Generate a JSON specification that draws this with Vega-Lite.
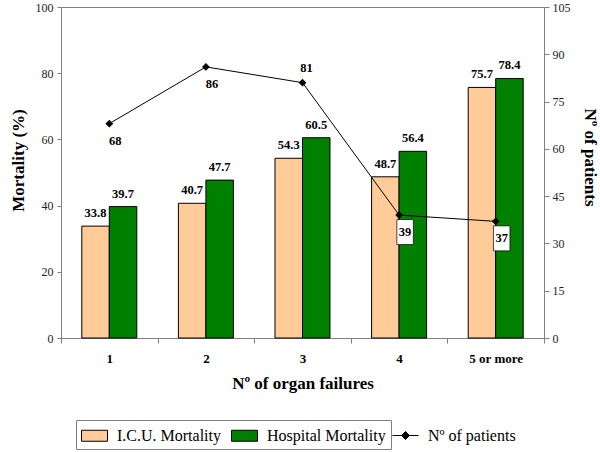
{
  "$schema": "https://vega.github.io/schema/vega-lite/v6.json",
  "width": 483,
  "height": 331,
  "autosize": {"type": "none"},
  "padding": {"left": 61, "top": 7, "right": 56, "bottom": 114},
  "background": "white",
  "config": {
    "font": "Liberation Serif",
    "view": {"stroke": "#808080", "strokeWidth": 1},
    "axis": {
      "grid": false,
      "domainColor": "#808080",
      "tickColor": "#808080",
      "labelFont": "Liberation Serif",
      "titleFont": "Liberation Serif",
      "labelColor": "#222222",
      "titleColor": "black",
      "titleFontWeight": "bold",
      "titleFontSize": 17,
      "labelFontSize": 12
    },
    "legend": {
      "orient": "none", "legendY": 413,
      "direction": "horizontal",
      "padding": 5,
      "symbolSize": 400, "symbolOffset": 3, "labelOffset": 12, "columnPadding": 8, "labelLimit": 400,
      "labelFont": "Liberation Serif", "labelFontSize": 16, "labelColor": "black"
    },
    "text": {"font": "Liberation Serif", "color": "black"}
  },
  "datasets": {
    "bars": [
      {"failures": "1", "series": "I.C.U. Mortality", "value": 33.8},
      {"failures": "1", "series": "Hospital Mortality", "value": 39.7},
      {"failures": "2", "series": "I.C.U. Mortality", "value": 40.7},
      {"failures": "2", "series": "Hospital Mortality", "value": 47.7},
      {"failures": "3", "series": "I.C.U. Mortality", "value": 54.3},
      {"failures": "3", "series": "Hospital Mortality", "value": 60.5},
      {"failures": "4", "series": "I.C.U. Mortality", "value": 48.7},
      {"failures": "4", "series": "Hospital Mortality", "value": 56.4},
      {"failures": "5 or more", "series": "I.C.U. Mortality", "value": 75.7},
      {"failures": "5 or more", "series": "Hospital Mortality", "value": 78.4}
    ],
    "patients": [
      {"failures": "1", "n": 68},
      {"failures": "2", "n": 86},
      {"failures": "3", "n": 81},
      {"failures": "4", "n": 39},
      {"failures": "5 or more", "n": 37}
    ]
  },
  "layer": [
    {
      "data": {"name": "bars"},
      "encoding": {
        "x": {
          "field": "failures", "type": "nominal",
          "sort": ["1", "2", "3", "4", "5 or more"],
          "scale": {"padding": 0},
          "axis": {"title": "Nº of organ failures", "labelAngle": 0, "labelFontWeight": "bold", "labelFontSize": 13, "labelColor": "black", "tickBand": "extent", "tickSize": 5, "labelPadding": 9, "titlePadding": 10}
        },
        "xOffset": {
          "field": "series", "type": "nominal",
          "sort": ["I.C.U. Mortality", "Hospital Mortality"],
          "scale": {"paddingOuter": 0.756, "paddingInner": 0}
        },
        "y": {
          "field": "value", "type": "quantitative",
          "scale": {"domain": [0, 100]},
          "axis": {"title": "Mortality (%)", "values": [0, 20, 40, 60, 80, 100], "tickSize": 4, "labelPadding": 4, "titlePadding": 8, "titleY": 153}
        }
      },
      "layer": [
        {
          "mark": {"type": "bar", "stroke": "black", "strokeWidth": 1},
          "encoding": {
            "color": {
              "field": "series", "type": "nominal",
              "scale": {"domain": ["I.C.U. Mortality", "Hospital Mortality"], "range": ["#FFCC99", "#008000"]},
              "legend": {
                "title": null,
                "legendX": 15,
                "strokeColor": "#808080",
                "symbolType": "M-1.3,-0.55H1.3V0.55H-1.3Z",
                "symbolStrokeColor": "black",
                "symbolStrokeWidth": 1,
                "labelExpr": "datum.label === 'Hospital Mortality' ? pad(datum.label, 50, '\u00a0', 'right') : datum.label"
              }
            }
          }
        },
        {
          "mark": {"type": "text", "baseline": "bottom", "dy": -6, "fontWeight": "bold", "fontSize": 12.5, "font": "Liberation Serif"},
          "encoding": {"text": {"field": "value", "type": "quantitative", "format": ".1f"}}
        }
      ]
    },
    {
      "data": {"name": "patients"},
      "encoding": {
        "x": {
          "field": "failures", "type": "nominal",
          "sort": ["1", "2", "3", "4", "5 or more"],
          "scale": {"padding": 0},
          "axis": {"title": "Nº of organ failures", "labelAngle": 0, "labelFontWeight": "bold", "labelFontSize": 13, "labelColor": "black", "tickBand": "extent", "tickSize": 5, "labelPadding": 9, "titlePadding": 10}
        },
        "y": {
          "field": "n", "type": "quantitative",
          "scale": {"domain": [0, 105]},
          "axis": {"orient": "right", "title": "Nº of patients", "values": [0, 15, 30, 45, 60, 75, 90, 105], "tickSize": 5, "labelPadding": 3, "titlePadding": 10, "titleY": 150}
        }
      },
      "layer": [
        {
          "mark": {"type": "line", "strokeWidth": 1, "point": {"shape": "diamond", "size": 60, "filled": true, "fill": "black", "opacity": 1}},
          "encoding": {
            "color": {
              "datum": "Nº of patients",
              "scale": {"range": ["black"]},
              "legend": {
                "title": null,
                "legendX": 326,
                "symbolType": "M-1.3,0H1.3M0,-0.4L0.4,0L0,0.4L-0.4,0Z",
                "symbolFillColor": "black",
                "symbolStrokeColor": "black",
                "symbolStrokeWidth": 1,
                "symbolOpacity": 1
              }
            }
          }
        },
        {
          "transform": [{"filter": "datum.n < 50"}],
          "mark": {"type": "point", "shape": "M-0.66,-1H0.66V1H-0.66Z", "size": 625, "filled": true, "fill": "white", "stroke": "black", "strokeWidth": 0.7, "opacity": 1, "xOffset": 6, "yOffset": 17},
          "encoding": {}
        },
        {
          "transform": [{"filter": "datum.failures != '3'"}],
          "mark": {"type": "text", "dx": 6, "dy": 17, "baseline": "middle", "fontWeight": "bold", "fontSize": 12.5, "font": "Liberation Serif"},
          "encoding": {"text": {"field": "n", "type": "quantitative"}}
        },
        {
          "transform": [{"filter": "datum.failures == '3'"}],
          "mark": {"type": "text", "dx": 4, "dy": -15, "baseline": "middle", "fontWeight": "bold", "fontSize": 12.5, "font": "Liberation Serif"},
          "encoding": {"text": {"field": "n", "type": "quantitative"}}
        }
      ]
    }
  ],
  "resolve": {"scale": {"y": "independent", "color": "independent"}}
}
